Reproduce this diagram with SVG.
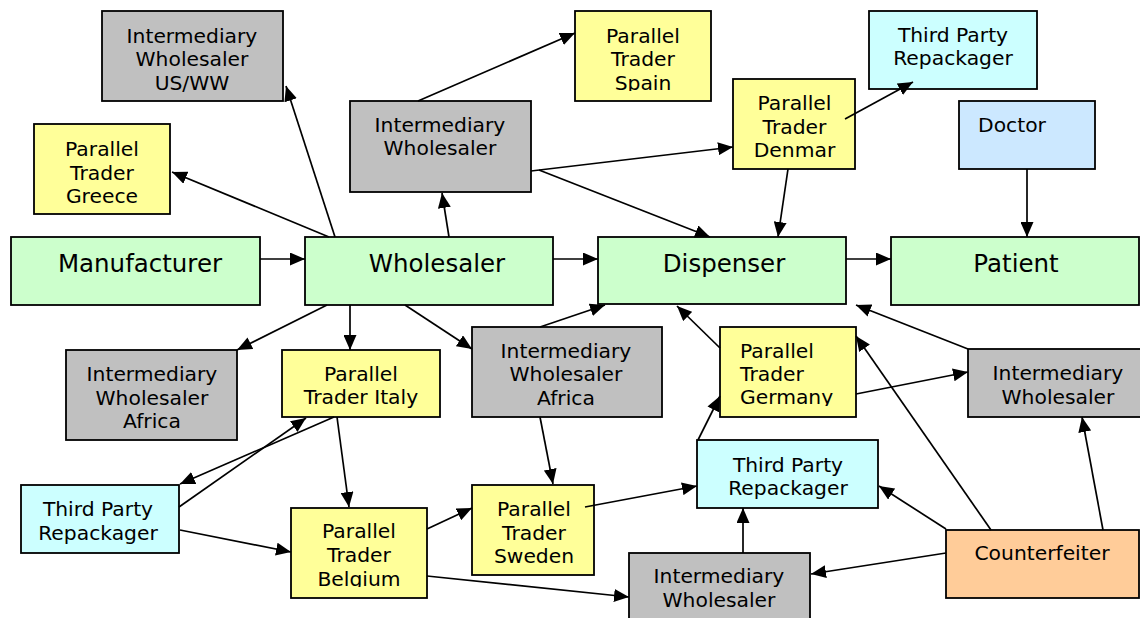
<svg xmlns="http://www.w3.org/2000/svg" width="1140" height="618" viewBox="0 0 1140 618">
<style>
.n rect{stroke:#000;stroke-width:1.8}
.g{fill:#CCFFCC}.y{fill:#FFFF99}.gr{fill:#C0C0C0}.c{fill:#CCFFFF}.b{fill:#CCE8FF}.o{fill:#FFCC99}
text{font-family:"DejaVu Sans","Verdana",sans-serif;font-size:20.3px;fill:#000;text-anchor:middle}
text.big{font-size:24.5px}
text.l{text-anchor:start}
#conn line{stroke:#000;stroke-width:1.7;marker-end:url(#ah)}
</style>
<defs>
<marker id="ah" viewBox="0 0 15 13" refX="15" refY="6.5" markerWidth="15" markerHeight="13" markerUnits="userSpaceOnUse" orient="auto">
<path d="M0,0 L15,6.5 L0,13 z" fill="#000"/>
</marker>
<clipPath id="clSpain"><rect x="575" y="11" width="136" height="80"/></clipPath>
<clipPath id="clGermany"><rect x="720" y="327" width="136" height="79"/></clipPath>
<clipPath id="clBelgium"><rect x="291" y="508" width="136" height="79"/></clipPath>
</defs>
<rect width="1140" height="618" fill="#fff"/>

<g id="iw-usww" class="n"><rect class="gr" x="102" y="11" width="181" height="90"/>
<text x="192" y="43">Intermediary</text><text x="192" y="66">Wholesaler</text><text x="192" y="90">US/WW</text></g>

<g id="pt-greece" class="n"><rect class="y" x="34" y="124" width="136" height="90"/>
<text x="102" y="156">Parallel</text><text x="102" y="180">Trader</text><text x="102" y="203">Greece</text></g>

<g id="pt-spain" class="n"><rect class="y" x="575" y="11" width="136" height="90"/>
<g clip-path="url(#clSpain)"><text x="643" y="43">Parallel</text><text x="643" y="66">Trader</text><text x="643" y="90">Spain</text></g></g>

<g id="iw-top" class="n"><rect class="gr" x="350" y="101" width="181" height="91"/>
<text x="440" y="132">Intermediary</text><text x="440" y="155">Wholesaler</text></g>

<g id="tpr-top" class="n"><rect class="c" x="869" y="11" width="168" height="78"/>
<text x="953" y="42">Third Party</text><text x="953" y="65">Repackager</text></g>

<g id="pt-denmar" class="n"><rect class="y" x="733" y="79" width="122" height="90"/>
<text x="794.5" y="110">Parallel</text><text x="794.5" y="134">Trader</text><text x="794.5" y="157">Denmar</text></g>

<g id="doctor" class="n"><rect class="b" x="959" y="101" width="136" height="68"/>
<text x="1012" y="132">Doctor</text></g>

<g id="manufacturer" class="n"><rect class="g" x="11" y="237" width="249" height="68"/>
<text class="big" x="140" y="272">Manufacturer</text></g>

<g id="wholesaler" class="n"><rect class="g" x="305" y="237" width="248" height="68"/>
<text class="big" x="437" y="272">Wholesaler</text></g>

<g id="dispenser" class="n"><rect class="g" x="598" y="237" width="248" height="67"/>
<text class="big" x="724" y="272">Dispenser</text></g>

<g id="patient" class="n"><rect class="g" x="891" y="237" width="248" height="68"/>
<text class="big" x="1016" y="272">Patient</text></g>

<g id="iw-africa-left" class="n"><rect class="gr" x="66" y="350" width="171" height="90"/>
<text x="152" y="381">Intermediary</text><text x="152" y="404.5">Wholesaler</text><text x="152" y="428">Africa</text></g>

<g id="pt-italy" class="n"><rect class="y" x="282" y="350" width="158" height="67"/>
<text x="361" y="381">Parallel</text><text x="361" y="404">Trader Italy</text></g>

<g id="iw-africa-mid" class="n"><rect class="gr" x="472" y="327" width="190" height="90"/>
<text x="566" y="358">Intermediary</text><text x="566" y="381">Wholesaler</text><text x="566" y="405">Africa</text></g>

<g id="pt-germany" class="n"><rect class="y" x="720" y="327" width="136" height="90"/>
<g clip-path="url(#clGermany)"><text class="l" x="740" y="358">Parallel</text><text class="l" x="740" y="381">Trader</text><text class="l" x="740" y="404">Germany</text></g></g>

<g id="iw-right" class="n"><rect class="gr" x="968" y="349" width="181" height="68"/>
<text x="1058" y="380">Intermediary</text><text x="1058" y="404">Wholesaler</text></g>

<g id="tpr-left" class="n"><rect class="c" x="21" y="485" width="158" height="68"/>
<text x="98" y="516">Third Party</text><text x="98" y="540">Repackager</text></g>

<g id="pt-belgium" class="n"><rect class="y" x="291" y="508" width="136" height="90"/>
<g clip-path="url(#clBelgium)"><text x="359" y="538">Parallel</text><text x="359" y="562">Trader</text><text x="359" y="586">Belgium</text></g></g>

<g id="pt-sweden" class="n"><rect class="y" x="472" y="485" width="122" height="90"/>
<text x="534" y="516">Parallel</text><text x="534" y="540">Trader</text><text x="534" y="563">Sweden</text></g>

<g id="tpr-mid" class="n"><rect class="c" x="697" y="440" width="181" height="68"/>
<text x="788" y="472">Third Party</text><text x="788" y="495">Repackager</text></g>

<g id="iw-bottom" class="n"><rect class="gr" x="629" y="553" width="181" height="80"/>
<text x="719" y="583">Intermediary</text><text x="719" y="607">Wholesaler</text></g>

<g id="counterfeiter" class="n"><rect class="o" x="946" y="530" width="193" height="68"/>
<text x="1042" y="560">Counterfeiter</text></g>

<g id="conn">
<line x1="260" y1="259" x2="305" y2="259"/>
<line x1="553" y1="259" x2="598" y2="259"/>
<line x1="846" y1="259" x2="891" y2="259"/>
<line x1="335" y1="237" x2="286" y2="86"/>
<line x1="329" y1="237" x2="172" y2="172"/>
<line x1="449" y1="237" x2="442" y2="193"/>
<line x1="418" y1="101" x2="575" y2="33"/>
<line x1="531" y1="171" x2="733" y2="147"/>
<line x1="539" y1="170" x2="710" y2="237"/>
<line x1="788" y1="169" x2="778" y2="237"/>
<line x1="845" y1="119" x2="913" y2="82"/>
<line x1="1027" y1="169" x2="1027" y2="237"/>
<line x1="327" y1="305" x2="237" y2="350"/>
<line x1="350" y1="305" x2="350" y2="350"/>
<line x1="405" y1="305" x2="472" y2="349"/>
<line x1="540" y1="327" x2="605" y2="305"/>
<line x1="720" y1="348" x2="677" y2="306"/>
<line x1="968" y1="349" x2="856" y2="305"/>
<line x1="856" y1="394" x2="968" y2="372"/>
<line x1="991" y1="530" x2="856" y2="336"/>
<line x1="1103" y1="530" x2="1082" y2="417"/>
<line x1="946" y1="529" x2="879" y2="486"/>
<line x1="946" y1="553" x2="811" y2="574"/>
<line x1="743" y1="553" x2="743" y2="508"/>
<line x1="698" y1="440" x2="720" y2="396"/>
<line x1="585" y1="507" x2="697" y2="486"/>
<line x1="427" y1="529" x2="472" y2="508"/>
<line x1="427" y1="576" x2="629" y2="597"/>
<line x1="540" y1="417" x2="553" y2="484"/>
<line x1="337" y1="417" x2="349" y2="507"/>
<line x1="334" y1="417" x2="180" y2="484"/>
<line x1="179" y1="507" x2="306" y2="418"/>
<line x1="180" y1="530" x2="291" y2="552"/>
</g>
</svg>
